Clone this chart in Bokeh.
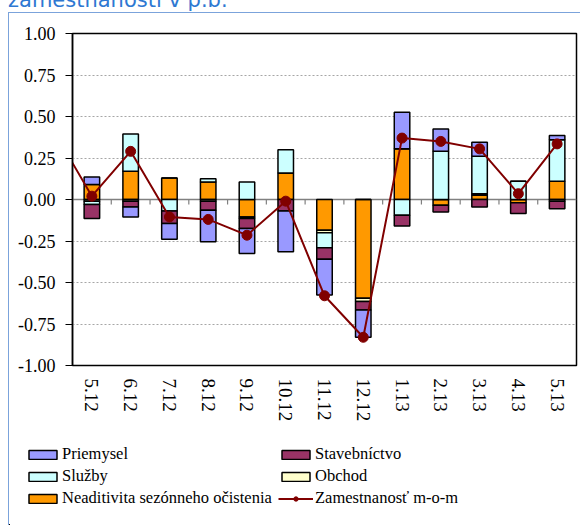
from bokeh.plotting import figure
from bokeh.models import (Range1d, FixedTicker, NumeralTickFormatter, Span, Legend, LegendItem, Div,
                          ColumnDataSource)
from bokeh.layouts import column
from bokeh.embed import file_html
from bokeh.resources import INLINE

months = ["5.12", "6.12", "7.12", "8.12", "9.12", "10.12", "11.12", "12.12",
          "1.13", "2.13", "3.13", "4.13", "5.13"]
priemysel = [0.045, -0.06, -0.095, -0.19, -0.15, -0.245, -0.215, -0.165, 0.22, 0.135, 0.085, 0.0, 0.025]
stavebnictvo = [-0.085, -0.035, -0.075, -0.055, -0.06, -0.07, -0.07, -0.05, -0.065, -0.04, -0.045, -0.065, -0.045]
sluzby = [-0.02, 0.225, -0.07, 0.02, 0.105, 0.14, -0.09, 0.0, -0.095, 0.29, 0.225, 0.11, 0.25]
obchod = [-0.01, -0.01, 0.0, -0.01, -0.01, 0.0, -0.015, -0.02, 0.0, 0.0, 0.01, 0.0, -0.01]
neaditivita = [0.09, 0.17, 0.13, 0.105, -0.105, 0.16, -0.185, -0.595, 0.305, -0.035, 0.025, -0.02, 0.11]
zamestnanost = [0.02, 0.29, -0.105, -0.12, -0.215, -0.01, -0.58, -0.83, 0.37, 0.35, 0.305, 0.035, 0.335]
zamestnanost_prev = 0.42  # 4.12, outside the visible window
y_ticks = [-1.0, -0.75, -0.5, -0.25, 0.0, 0.25, 0.5, 0.75, 1.0]

SERIF = "Liberation Serif"
BLUE_BORDER = "1.5px solid #7BA3DB"
n = len(months)
xs = list(range(n))

p = figure(width=572, height=418, output_backend="svg", toolbar_location=None,
           x_range=Range1d(-0.5, n - 0.5), y_range=Range1d(-1, 1),
           min_border_left=63, min_border_right=5, min_border_top=20, min_border_bottom=66,
           margin=(0, 0, 0, 8))
p.frame_align = False
p.styles = {"border-left": BLUE_BORDER, "border-top": BLUE_BORDER}
p.outline_line_color = "black"
p.outline_line_width = 1.5
p.xgrid.visible = False
p.ygrid.ticker = FixedTicker(ticks=y_ticks)
p.ygrid.grid_line_color = "#A6A6A6"
p.ygrid.grid_line_dash = "2 2"
p.ygrid.grid_line_width = 1

# zero line and category boundary ticks
p.add_layout(Span(location=0, dimension="width", line_color="#808080", line_width=1.5, level="underlay"))
bounds = [i + 0.5 for i in range(n - 1)]
p.segment(x0=bounds, y0=[0] * len(bounds), x1=bounds, y1=[-0.03] * len(bounds),
          line_color="#808080", line_width=1.2)

# stacking: from zero outward Neaditivita, Obchod, Sluzby, Stavebnictvo, Priemysel
series = [("Neaditivita sezónneho očistenia", neaditivita, "#FF9900"),
          ("Obchod", obchod, "#FFFFCC"),
          ("Služby", sluzby, "#CCFFFF"),
          ("Stavebníctvo", stavebnictvo, "#993366"),
          ("Priemysel", priemysel, "#9999FF")]
colors = {}
sources = {}
pos = [0.0] * n
neg = [0.0] * n
for name, vals, col in series:
    bottoms, tops = [], []
    for i, v in enumerate(vals):
        if v >= 0:
            bottoms.append(pos[i]); tops.append(pos[i] + v); pos[i] += v
        else:
            tops.append(neg[i]); bottoms.append(neg[i] + v); neg[i] += v
    src = ColumnDataSource(dict(x=xs, bottom=bottoms, top=tops))
    sources[name] = src
    colors[name] = col
    p.vbar(x="x", width=0.4, bottom="bottom", top="top", source=src, fill_color=col,
           line_color="black", line_width=1.5)

line_src = ColumnDataSource(dict(x=[-1] + xs, y=[zamestnanost_prev] + zamestnanost))
pt_src = ColumnDataSource(dict(x=xs, y=zamestnanost))
p.line("x", "y", source=line_src, line_color="#800000", line_width=2)
p.scatter("x", "y", source=pt_src, size=10, fill_color="#800000", line_color="#800000")

# axes
p.yaxis.ticker = FixedTicker(ticks=y_ticks)
p.yaxis.formatter = NumeralTickFormatter(format="0.00")
p.yaxis.axis_line_color = "black"
p.yaxis.axis_line_width = 1.5
p.yaxis.major_tick_out = 7
p.yaxis.major_tick_in = 0
p.yaxis.major_tick_line_color = "black"
p.yaxis.minor_tick_line_color = None
p.yaxis.major_label_standoff = 10
p.yaxis.major_label_text_font = SERIF
p.yaxis.major_label_text_font_size = "18px"
p.yaxis.major_label_text_color = "black"

p.xaxis.ticker = FixedTicker(ticks=xs)
p.xaxis.major_label_overrides = {i: m for i, m in enumerate(months)}
p.xaxis.major_label_orientation = "vertical"
p.xaxis.axis_line_color = None
p.xaxis.major_tick_line_color = None
p.xaxis.minor_tick_line_color = None
p.xaxis.major_tick_out = 0
p.xaxis.major_label_standoff = 13
p.xaxis.major_label_text_font = SERIF
p.xaxis.major_label_text_font_size = "19px"
p.xaxis.major_label_text_color = "black"

# legend in its own strip below the chart (same data sources, view range keeps marks hidden)
lg = figure(width=572, height=95, output_backend="svg", toolbar_location=None,
            x_range=Range1d(100, 101), y_range=Range1d(100, 101),
            x_axis_location=None, y_axis_location=None,
            min_border=0, min_border_left=0, min_border_right=0, min_border_top=0,
            min_border_bottom=0, margin=(0, 0, 0, 8))
lg.frame_align = False
lg.styles = {"border-left": BLUE_BORDER}
lg.outline_line_color = None
lg.grid.visible = False
leg_r = {}
for name in colors:
    leg_r[name] = lg.vbar(x="x", width=0.4, bottom="bottom", top="top", source=sources[name],
                          fill_color=colors[name], line_color="black", line_width=1.5)
ll = lg.line("x", "y", source=line_src, line_color="#800000", line_width=2)
ls = lg.scatter("x", "y", source=pt_src, size=10, fill_color="#800000", line_color="#800000")
# column-major order so rows read: Priemysel | Stavebníctvo, Služby | Obchod, Neaditivita | Zamestnanosť
col1 = ["Priemysel", "Služby", "Neaditivita sezónneho očistenia"]
col2 = ["Stavebníctvo", "Obchod"]
items = [LegendItem(label=nm, renderers=[leg_r[nm]]) for nm in col1 + col2]
items.append(LegendItem(label="Zamestnanosť m-o-m", renderers=[ll, ls]))
legend = Legend(items=items, ncols=2, location=(16, 17), padding=0, margin=0,
                border_line_color=None, background_fill_alpha=0,
                glyph_width=35, glyph_height=11, label_standoff=2, spacing=2,
                label_width=214, label_height=20,
                label_text_font=SERIF, label_text_font_size="16.5px", label_text_color="black")
lg.add_layout(legend, "center")

title = Div(text="zamestnanosti v p.b.", width=400, height=24, margin=(-12, 0, 0, 8),
            styles={"color": "#2E78D2", "font-family": "DejaVu Sans", "font-size": "21px",
                    "line-height": "24px", "white-space": "nowrap"})

layout = column(title, p, lg, spacing=0)
open("out.html", "w").write(file_html(layout, INLINE))
